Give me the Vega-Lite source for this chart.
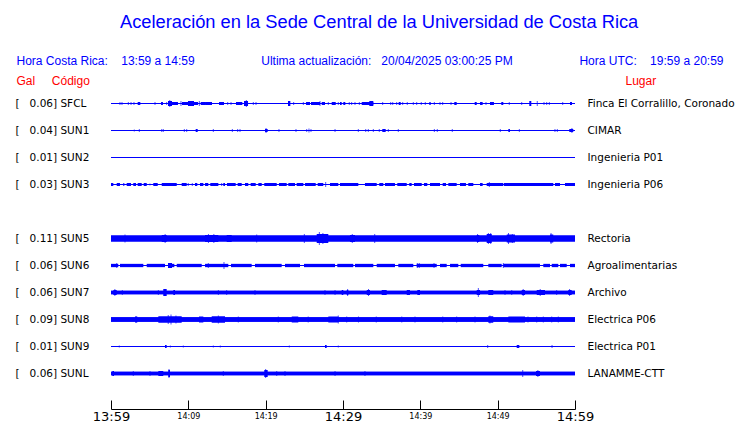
{
"$schema":"https://vega.github.io/schema/vega-lite/v6.json",
"autosize":{"type":"none"},
"width":464,"height":297,
"padding":{"left":111,"top":90,"right":165,"bottom":36},
"background":"white",
"config":{"view":{"stroke":null}},
"title":{"text":"Aceleración en la Sede Central de la Universidad de Costa Rica","font":"Liberation Sans","fontSize":18.3,"fontWeight":"normal","color":"#0000ff","anchor":"start","frame":"group","dx":9,"offset":22},
"datasets":{
"st":[
{"s":"SFCL","left":"[\u00a0\u00a0\u00a00.06] SFCL","place":"Finca El Corralillo, Coronado","base":0.01},
{"s":"SUN1","left":"[\u00a0\u00a0\u00a00.04] SUN1","place":"CIMAR","base":0.01},
{"s":"SUN2","left":"[\u00a0\u00a0\u00a00.01] SUN2","place":"Ingenieria P01","base":0.01},
{"s":"SUN3","left":"[\u00a0\u00a0\u00a00.03] SUN3","place":"Ingenieria P06","base":0.01},
{"s":"SUN5","left":"[\u00a0\u00a0\u00a00.11] SUN5","place":"Rectoria","base":0.06},
{"s":"SUN6","left":"[\u00a0\u00a0\u00a00.06] SUN6","place":"Agroalimentarias","base":0.01},
{"s":"SUN7","left":"[\u00a0\u00a0\u00a00.06] SUN7","place":"Archivo","base":0.035},
{"s":"SUN8","left":"[\u00a0\u00a0\u00a00.09] SUN8","place":"Electrica P06","base":0.045},
{"s":"SUN9","left":"[\u00a0\u00a0\u00a00.01] SUN9","place":"Electrica P01","base":0.01},
{"s":"SUNL","left":"[\u00a0\u00a0\u00a00.06] SUNL","place":"LANAMME-CTT","base":0.033}
],
"seg":[
{"s":"SFCL","t0":3.45,"t1":3.79,"a":0.03},{"s":"SFCL","t0":6.47,"t1":6.72,"a":0.03},{"s":"SFCL","t0":7.37,"t1":7.89,"a":0.05},{"s":"SFCL","t0":7.89,"t1":8.66,"a":0.03},{"s":"SFCL","t0":9.18,"t1":9.96,"a":0.03},{"s":"SFCL","t0":9.96,"t1":10.73,"a":0.05},{"s":"SFCL","t0":10.73,"t1":11.25,"a":0.03},{"s":"SFCL","t0":11.6,"t1":12.16,"a":0.03},{"s":"SFCL","t0":12.16,"t1":13.06,"a":0.03},{"s":"SFCL","t0":13.97,"t1":14.35,"a":0.03},{"s":"SFCL","t0":14.35,"t1":14.61,"a":0.03},{"s":"SFCL","t0":16.16,"t1":16.98,"a":0.03},{"s":"SFCL","t0":17.2,"t1":17.72,"a":0.05},{"s":"SFCL","t0":22.89,"t1":23.19,"a":0.05},{"s":"SFCL","t0":25.22,"t1":25.73,"a":0.03},{"s":"SFCL","t0":25.86,"t1":27.03,"a":0.03},{"s":"SFCL","t0":27.25,"t1":27.67,"a":0.03},{"s":"SFCL","t0":28.54,"t1":29.06,"a":0.03},{"s":"SFCL","t0":29.61,"t1":29.83,"a":0.03},{"s":"SFCL","t0":30.04,"t1":30.3,"a":0.03},{"s":"SFCL","t0":32.42,"t1":33.92,"a":0.03},{"s":"SFCL","t0":33.4,"t1":33.92,"a":0.05},{"s":"SFCL","t0":37.2,"t1":37.46,"a":0.03},{"s":"SFCL","t0":41.16,"t1":41.34,"a":0.03},{"s":"SFCL","t0":44.39,"t1":44.7,"a":0.03},{"s":"SFCL","t0":47.03,"t1":47.29,"a":0.03},{"s":"SFCL","t0":47.72,"t1":48.06,"a":0.03},{"s":"SFCL","t0":49.01,"t1":49.52,"a":0.03},{"s":"SFCL","t0":50.47,"t1":50.73,"a":0.03},{"s":"SFCL","t0":54.09,"t1":54.35,"a":0.05},{"s":"SFCL","t0":59.35,"t1":59.61,"a":0.03},
{"s":"SUN1","t0":10.95,"t1":11.21,"a":0.03},{"s":"SUN1","t0":19.91,"t1":20.26,"a":0.03},{"s":"SUN1","t0":35.08,"t1":35.52,"a":0.03},{"s":"SUN1","t0":51.38,"t1":51.59,"a":0.03},{"s":"SUN1","t0":59.26,"t1":59.78,"a":0.03},
{"s":"SUN3","t0":0,"t1":0.3,"a":0.03},{"s":"SUN3","t0":0.74,"t1":1.16,"a":0.03},{"s":"SUN3","t0":1.59,"t1":1.72,"a":0.03},{"s":"SUN3","t0":2.03,"t1":2.59,"a":0.03},{"s":"SUN3","t0":2.88,"t1":3.23,"a":0.03},{"s":"SUN3","t0":3.45,"t1":3.97,"a":0.03},{"s":"SUN3","t0":4.23,"t1":4.62,"a":0.03},{"s":"SUN3","t0":5.47,"t1":6.04,"a":0.03},{"s":"SUN3","t0":6.56,"t1":8.5,"a":0.03},{"s":"SUN3","t0":9.14,"t1":9.79,"a":0.03},{"s":"SUN3","t0":10.86,"t1":11.16,"a":0.03},{"s":"SUN3","t0":11.51,"t1":11.94,"a":0.03},{"s":"SUN3","t0":12.16,"t1":12.58,"a":0.03},{"s":"SUN3","t0":12.84,"t1":13.88,"a":0.03},{"s":"SUN3","t0":14.52,"t1":14.74,"a":0.03},{"s":"SUN3","t0":15.0,"t1":16.12,"a":0.03},{"s":"SUN3","t0":16.38,"t1":16.9,"a":0.03},{"s":"SUN3","t0":17.33,"t1":17.75,"a":0.03},{"s":"SUN3","t0":18.06,"t1":18.71,"a":0.03},{"s":"SUN3","t0":19.05,"t1":19.49,"a":0.03},{"s":"SUN3","t0":19.82,"t1":21.43,"a":0.03},{"s":"SUN3","t0":21.72,"t1":22.72,"a":0.03},{"s":"SUN3","t0":22.93,"t1":23.79,"a":0.03},{"s":"SUN3","t0":24.01,"t1":24.87,"a":0.03},{"s":"SUN3","t0":25.09,"t1":26.47,"a":0.03},{"s":"SUN3","t0":26.73,"t1":27.45,"a":0.03},{"s":"SUN3","t0":28.32,"t1":29.39,"a":0.03},{"s":"SUN3","t0":29.61,"t1":31.98,"a":0.03},{"s":"SUN3","t0":32.84,"t1":34.36,"a":0.03},{"s":"SUN3","t0":34.69,"t1":35.21,"a":0.03},{"s":"SUN3","t0":35.43,"t1":36.72,"a":0.03},{"s":"SUN3","t0":37.02,"t1":38.24,"a":0.03},{"s":"SUN3","t0":38.57,"t1":38.88,"a":0.03},{"s":"SUN3","t0":39.18,"t1":40.18,"a":0.03},{"s":"SUN3","t0":40.47,"t1":40.9,"a":0.03},{"s":"SUN3","t0":41.25,"t1":42.54,"a":0.03},{"s":"SUN3","t0":42.89,"t1":43.32,"a":0.03},{"s":"SUN3","t0":43.62,"t1":44.7,"a":0.03},{"s":"SUN3","t0":45.13,"t1":45.9,"a":0.03},{"s":"SUN3","t0":46.2,"t1":46.85,"a":0.03},{"s":"SUN3","t0":47.72,"t1":48.06,"a":0.03},{"s":"SUN3","t0":48.58,"t1":50.73,"a":0.03},{"s":"SUN3","t0":50.82,"t1":57.19,"a":0.03},{"s":"SUN3","t0":57.41,"t1":58.06,"a":0.03},{"s":"SUN3","t0":58.71,"t1":60,"a":0.03},
{"s":"SUN5","t0":6.56,"t1":7.2,"a":0.07},{"s":"SUN5","t0":12.16,"t1":13.88,"a":0.07},{"s":"SUN5","t0":14.96,"t1":15.61,"a":0.07},{"s":"SUN5","t0":26.6,"t1":28.1,"a":0.09},{"s":"SUN5","t0":30.9,"t1":31.55,"a":0.07},{"s":"SUN5","t0":47.29,"t1":47.62,"a":0.07},{"s":"SUN5","t0":48.58,"t1":49.23,"a":0.09},{"s":"SUN5","t0":51.17,"t1":52.24,"a":0.08},{"s":"SUN5","t0":56.77,"t1":57.19,"a":0.08},
{"s":"SUN6","t0":0,"t1":0.94,"a":0.033},{"s":"SUN6","t0":1.16,"t1":4.18,"a":0.033},{"s":"SUN6","t0":4.62,"t1":6.98,"a":0.033},{"s":"SUN6","t0":7.41,"t1":8.19,"a":0.033},{"s":"SUN6","t0":7.37,"t1":7.89,"a":0.05},{"s":"SUN6","t0":8.5,"t1":11.73,"a":0.033},{"s":"SUN6","t0":12.16,"t1":15.17,"a":0.033},{"s":"SUN6","t0":15.52,"t1":18.19,"a":0.033},{"s":"SUN6","t0":18.62,"t1":22.07,"a":0.033},{"s":"SUN6","t0":22.5,"t1":24.44,"a":0.033},{"s":"SUN6","t0":24.96,"t1":28.97,"a":0.033},{"s":"SUN6","t0":29.26,"t1":31.33,"a":0.033},{"s":"SUN6","t0":31.55,"t1":33.92,"a":0.033},{"s":"SUN6","t0":34.36,"t1":36.72,"a":0.033},{"s":"SUN6","t0":37.15,"t1":39.09,"a":0.033},{"s":"SUN6","t0":39.53,"t1":42.12,"a":0.033},{"s":"SUN6","t0":42.54,"t1":43.41,"a":0.033},{"s":"SUN6","t0":43.84,"t1":44.91,"a":0.033},{"s":"SUN6","t0":45.22,"t1":48.14,"a":0.033},{"s":"SUN6","t0":48.79,"t1":50.52,"a":0.033},{"s":"SUN6","t0":50.73,"t1":55.47,"a":0.033},{"s":"SUN6","t0":55.9,"t1":56.77,"a":0.033},{"s":"SUN6","t0":56.99,"t1":57.84,"a":0.033},{"s":"SUN6","t0":58.06,"t1":58.93,"a":0.033},{"s":"SUN6","t0":59.35,"t1":60,"a":0.033},
{"s":"SUN7","t0":0.3,"t1":0.74,"a":0.05},{"s":"SUN7","t0":6.76,"t1":7.2,"a":0.07},{"s":"SUN7","t0":8.06,"t1":8.28,"a":0.05},{"s":"SUN7","t0":29.83,"t1":30.04,"a":0.05},{"s":"SUN7","t0":30.48,"t1":30.69,"a":0.05},{"s":"SUN7","t0":33.07,"t1":33.49,"a":0.05},{"s":"SUN7","t0":35.0,"t1":35.65,"a":0.05},{"s":"SUN7","t0":38.24,"t1":38.66,"a":0.05},{"s":"SUN7","t0":39.61,"t1":39.96,"a":0.05},{"s":"SUN7","t0":47.29,"t1":47.72,"a":0.05},{"s":"SUN7","t0":48.79,"t1":49.43,"a":0.05},{"s":"SUN7","t0":53.11,"t1":53.54,"a":0.05},{"s":"SUN7","t0":55.05,"t1":56.12,"a":0.05},{"s":"SUN7","t0":59.13,"t1":59.57,"a":0.05},
{"s":"SUN8","t0":3.1,"t1":3.4,"a":0.06},{"s":"SUN8","t0":6.12,"t1":9.14,"a":0.065},{"s":"SUN8","t0":11.38,"t1":11.94,"a":0.06},{"s":"SUN8","t0":13.02,"t1":14.74,"a":0.065},{"s":"SUN8","t0":23.37,"t1":24.22,"a":0.06},{"s":"SUN8","t0":28.1,"t1":29.39,"a":0.06},{"s":"SUN8","t0":48.79,"t1":49.43,"a":0.065},{"s":"SUN8","t0":51.38,"t1":53.54,"a":0.06},
{"s":"SUN9","t0":6.98,"t1":7.2,"a":0.03},{"s":"SUN9","t0":27.67,"t1":27.89,"a":0.03},{"s":"SUN9","t0":52.46,"t1":52.8,"a":0.03},
{"s":"SUNL","t0":0.17,"t1":0.39,"a":0.05},{"s":"SUNL","t0":6.12,"t1":6.76,"a":0.05},{"s":"SUNL","t0":7.41,"t1":7.63,"a":0.07},{"s":"SUNL","t0":19.82,"t1":20.26,"a":0.07},{"s":"SUNL","t0":54.96,"t1":55.47,"a":0.05}
],
"spk":[
{"s":"SFCL","t":1.16,"a":0.03},{"s":"SFCL","t":1.42,"a":0.03},{"s":"SFCL","t":2.24,"a":0.03},{"s":"SFCL","t":2.59,"a":0.03},{"s":"SFCL","t":2.97,"a":0.03},{"s":"SFCL","t":5.69,"a":0.03},{"s":"SFCL","t":7.2,"a":0.03},{"s":"SFCL","t":7.6,"a":0.07},{"s":"SFCL","t":9.05,"a":0.05},{"s":"SFCL","t":10.3,"a":0.05},{"s":"SFCL","t":11.42,"a":0.05},{"s":"SFCL","t":15.09,"a":0.03},{"s":"SFCL","t":15.52,"a":0.03},{"s":"SFCL","t":17.5,"a":0.07},{"s":"SFCL","t":18.4,"a":0.03},{"s":"SFCL","t":18.75,"a":0.03},{"s":"SFCL","t":23.62,"a":0.03},{"s":"SFCL","t":24.87,"a":0.03},{"s":"SFCL","t":27.03,"a":0.05},{"s":"SFCL","t":28.1,"a":0.03},{"s":"SFCL","t":29.39,"a":0.03},{"s":"SFCL","t":30.81,"a":0.03},{"s":"SFCL","t":31.12,"a":0.03},{"s":"SFCL","t":31.55,"a":0.03},{"s":"SFCL","t":32.11,"a":0.03},{"s":"SFCL","t":35.13,"a":0.03},{"s":"SFCL","t":36.17,"a":0.03},{"s":"SFCL","t":36.43,"a":0.03},{"s":"SFCL","t":36.94,"a":0.03},{"s":"SFCL","t":37.72,"a":0.03},{"s":"SFCL","t":38.31,"a":0.03},{"s":"SFCL","t":39.09,"a":0.03},{"s":"SFCL","t":39.53,"a":0.03},{"s":"SFCL","t":40.12,"a":0.03},{"s":"SFCL","t":40.64,"a":0.03},{"s":"SFCL","t":41.81,"a":0.03},{"s":"SFCL","t":42.54,"a":0.03},{"s":"SFCL","t":42.89,"a":0.03},{"s":"SFCL","t":43.97,"a":0.03},{"s":"SFCL","t":48.49,"a":0.03},{"s":"SFCL","t":51.5,"a":0.03},{"s":"SFCL","t":53.11,"a":0.03},{"s":"SFCL","t":55.12,"a":0.05},{"s":"SFCL","t":55.99,"a":0.03},{"s":"SFCL","t":56.34,"a":0.03},{"s":"SFCL","t":56.68,"a":0.03},{"s":"SFCL","t":58.41,"a":0.03},
{"s":"SUN1","t":3.01,"a":0.02},{"s":"SUN1","t":3.66,"a":0.03},{"s":"SUN1","t":6.56,"a":0.03},{"s":"SUN1","t":6.76,"a":0.03},{"s":"SUN1","t":9.48,"a":0.03},{"s":"SUN1","t":9.79,"a":0.03},{"s":"SUN1","t":13.23,"a":0.03},{"s":"SUN1","t":15.69,"a":0.03},{"s":"SUN1","t":16.38,"a":0.03},{"s":"SUN1","t":16.68,"a":0.03},{"s":"SUN1","t":20.05,"a":0.05},{"s":"SUN1","t":21.72,"a":0.03},{"s":"SUN1","t":23.92,"a":0.03},{"s":"SUN1","t":25.31,"a":0.03},{"s":"SUN1","t":25.6,"a":0.04},{"s":"SUN1","t":25.86,"a":0.03},{"s":"SUN1","t":28.97,"a":0.03},{"s":"SUN1","t":31.98,"a":0.03},{"s":"SUN1","t":32.94,"a":0.03},{"s":"SUN1","t":33.27,"a":0.03},{"s":"SUN1","t":33.92,"a":0.03},{"s":"SUN1","t":34.69,"a":0.03},{"s":"SUN1","t":35.86,"a":0.03},{"s":"SUN1","t":37.15,"a":0.03},{"s":"SUN1","t":41.81,"a":0.03},{"s":"SUN1","t":42.19,"a":0.03},{"s":"SUN1","t":44.13,"a":0.03},{"s":"SUN1","t":50.34,"a":0.03},{"s":"SUN1","t":52.8,"a":0.03},{"s":"SUN1","t":57.41,"a":0.03},{"s":"SUN1","t":57.71,"a":0.03},{"s":"SUN1","t":59.6,"a":0.05},
{"s":"SUN3","t":5.04,"a":0.02},{"s":"SUN3","t":9.99,"a":0.03},{"s":"SUN3","t":10.51,"a":0.03},{"s":"SUN3","t":14.31,"a":0.03},{"s":"SUN3","t":27.76,"a":0.05},{"s":"SUN3","t":48.92,"a":0.05},
{"s":"SUN5","t":1.81,"a":0.08},{"s":"SUN5","t":7.0,"a":0.09},{"s":"SUN5","t":12.6,"a":0.09},{"s":"SUN5","t":13.3,"a":0.09},{"s":"SUN5","t":18.84,"a":0.08},{"s":"SUN5","t":25.0,"a":0.09},{"s":"SUN5","t":26.94,"a":0.13},{"s":"SUN5","t":27.4,"a":0.11},{"s":"SUN5","t":31.2,"a":0.09},{"s":"SUN5","t":34.1,"a":0.09},{"s":"SUN5","t":47.4,"a":0.09},{"s":"SUN5","t":48.8,"a":0.11},{"s":"SUN5","t":49.1,"a":0.11},{"s":"SUN5","t":51.4,"a":0.11},{"s":"SUN5","t":51.9,"a":0.09},{"s":"SUN5","t":56.9,"a":0.11},
{"s":"SUN6","t":0.74,"a":0.05},{"s":"SUN6","t":12.58,"a":0.05},{"s":"SUN6","t":14.61,"a":0.07},{"s":"SUN6","t":39.61,"a":0.05},{"s":"SUN6","t":39.86,"a":0.05},{"s":"SUN6","t":41.77,"a":0.05},{"s":"SUN6","t":50.73,"a":0.05},
{"s":"SUN7","t":0.5,"a":0.07},{"s":"SUN7","t":1.46,"a":0.05},{"s":"SUN7","t":6.12,"a":0.05},{"s":"SUN7","t":13.88,"a":0.05},{"s":"SUN7","t":14.96,"a":0.05},{"s":"SUN7","t":18.62,"a":0.05},{"s":"SUN7","t":27.67,"a":0.05},{"s":"SUN7","t":28.97,"a":0.05},{"s":"SUN7","t":30.6,"a":0.07},{"s":"SUN7","t":33.3,"a":0.07},{"s":"SUN7","t":47.5,"a":0.09},{"s":"SUN7","t":50.95,"a":0.05},{"s":"SUN7","t":51.82,"a":0.05},{"s":"SUN7","t":53.3,"a":0.07},{"s":"SUN7","t":55.5,"a":0.07},{"s":"SUN7","t":57.63,"a":0.05},{"s":"SUN7","t":59.3,"a":0.07},
{"s":"SUN8","t":3.25,"a":0.06},{"s":"SUN8","t":7.4,"a":0.09},{"s":"SUN8","t":7.76,"a":0.1},{"s":"SUN8","t":8.4,"a":0.08},{"s":"SUN8","t":13.88,"a":0.08},{"s":"SUN8","t":16.46,"a":0.06},{"s":"SUN8","t":21.63,"a":0.06},{"s":"SUN8","t":25.5,"a":0.06},{"s":"SUN8","t":29.39,"a":0.08},{"s":"SUN8","t":30.48,"a":0.06},{"s":"SUN8","t":32.0,"a":0.06},{"s":"SUN8","t":34.3,"a":0.06},{"s":"SUN8","t":37.6,"a":0.06},{"s":"SUN8","t":39.31,"a":0.06},{"s":"SUN8","t":42.9,"a":0.06},{"s":"SUN8","t":44.7,"a":0.06},{"s":"SUN8","t":47.07,"a":0.06},{"s":"SUN8","t":49.0,"a":0.08},{"s":"SUN8","t":53.92,"a":0.06},{"s":"SUN8","t":55.05,"a":0.06},{"s":"SUN8","t":55.9,"a":0.06},{"s":"SUN8","t":56.99,"a":0.06},{"s":"SUN8","t":57.84,"a":0.06},
{"s":"SUN9","t":1.07,"a":0.02},{"s":"SUN9","t":7.67,"a":0.02},{"s":"SUN9","t":9.35,"a":0.02},{"s":"SUN9","t":13.23,"a":0.02},{"s":"SUN9","t":14.13,"a":0.02},{"s":"SUN9","t":23.06,"a":0.02},{"s":"SUN9","t":29.39,"a":0.02},{"s":"SUN9","t":48.71,"a":0.03},{"s":"SUN9","t":57.03,"a":0.03},
{"s":"SUNL","t":2.88,"a":0.05},{"s":"SUNL","t":5.04,"a":0.05},{"s":"SUNL","t":7.5,"a":0.09},{"s":"SUNL","t":14.52,"a":0.05},{"s":"SUNL","t":20.0,"a":0.09},{"s":"SUNL","t":21.43,"a":0.05},{"s":"SUNL","t":22.5,"a":0.05},{"s":"SUNL","t":28.97,"a":0.05},{"s":"SUNL","t":32.84,"a":0.05},{"s":"SUNL","t":53.24,"a":0.07},{"s":"SUNL","t":55.2,"a":0.07}
]
},
"layer":[
{"data":{"name":"st"},"mark":{"type":"bar","color":"#0000ff"},
 "encoding":{
  "y":{"field":"left","type":"nominal","scale":{"type":"band","paddingInner":0,"paddingOuter":0,"domain":["[\u00a0\u00a0\u00a00.06] SFCL","[\u00a0\u00a0\u00a00.04] SUN1","[\u00a0\u00a0\u00a00.01] SUN2","[\u00a0\u00a0\u00a00.03] SUN3","\u00a0","[\u00a0\u00a0\u00a00.11] SUN5","[\u00a0\u00a0\u00a00.06] SUN6","[\u00a0\u00a0\u00a00.06] SUN7","[\u00a0\u00a0\u00a00.09] SUN8","[\u00a0\u00a0\u00a00.01] SUN9","[\u00a0\u00a0\u00a00.06] SUNL"]},
   "axis":{"orient":"left","title":"Gal\u00a0\u00a0\u00a0\u00a0\u00a0Código","titleFont":"Liberation Sans","titleFontSize":12,"titleFontWeight":"normal","titleColor":"#ff0000","titleAngle":0,"titleAlign":"left","titleBaseline":"alphabetic","titleX":-95,"titleY":-6,"ticks":false,"tickSize":0,"domain":false,"labelPadding":96,"labelAlign":"left","labelBaseline":"middle","labelFont":"DejaVu Sans","labelFontSize":10.5,"labelColor":"#000000","labelLimit":200}},
  "x":{"datum":0,"type":"quantitative","scale":{"domain":[0,60],"nice":false,"zero":false}},
  "x2":{"datum":60},
  "size":{"field":"base","type":"quantitative","scale":{"domain":[0,0.16],"range":[0,16]},"legend":null}
 }},
{"data":{"name":"st"},"mark":{"type":"bar","color":"#0000ff"},
 "encoding":{
  "y":{"field":"place","type":"nominal","scale":{"type":"band","paddingInner":0,"paddingOuter":0,"domain":["Finca El Corralillo, Coronado","CIMAR","Ingenieria P01","Ingenieria P06","\u00a0","Rectoria","Agroalimentarias","Archivo","Electrica P06","Electrica P01","LANAMME-CTT"]},
   "axis":{"orient":"right","title":"Lugar","titleFont":"Liberation Sans","titleFontSize":12,"titleFontWeight":"normal","titleColor":"#ff0000","titleAngle":0,"titleAlign":"left","titleBaseline":"alphabetic","titleX":50,"titleY":-6,"ticks":false,"tickSize":0,"domain":false,"labelPadding":12,"labelAlign":"left","labelBaseline":"middle","labelFont":"DejaVu Sans","labelFontSize":10.5,"labelColor":"#000000","labelLimit":200}},
  "x":{"datum":0,"type":"quantitative"},
  "x2":{"datum":60},
  "size":{"field":"base","type":"quantitative","legend":null}
 }},
{"data":{"name":"seg"},"mark":{"type":"bar","color":"#0000ff"},
 "encoding":{
  "y":{"field":"s","type":"nominal","scale":{"type":"band","paddingInner":0,"paddingOuter":0,"domain":["SFCL","SUN1","SUN2","SUN3","SUN4","SUN5","SUN6","SUN7","SUN8","SUN9","SUNL"]},"axis":null},
  "x":{"field":"t0","type":"quantitative",
   "axis":{"orient":"bottom","offset":22,"values":[0,5,10,15,20,25,30,35,40,45,50,55,60],"grid":false,"tickSize":-9,"tickColor":"#000000","domainColor":"#000000","labelFlush":false,"labelPadding":16,"labelBaseline":"middle","labelFont":"DejaVu Sans","labelColor":"#000000",
    "labelFontSize":{"condition":{"test":"datum.value % 30 == 0","value":13},"value":8},
    "labelExpr":"datum.value == 0 ? '13:59' : datum.value == 10 ? '14:09' : datum.value == 20 ? '14:19' : datum.value == 30 ? '14:29' : datum.value == 40 ? '14:39' : datum.value == 50 ? '14:49' : datum.value == 60 ? '14:59' : ''",
    "title":"Hora Costa Rica:\u00a0\u00a0\u00a0\u00a013:59 a 14:59\u00a0\u00a0\u00a0\u00a0\u00a0\u00a0\u00a0\u00a0\u00a0\u00a0\u00a0\u00a0\u00a0\u00a0\u00a0\u00a0\u00a0\u00a0\u00a0\u00a0Ultima actualización:\u00a0\u00a0\u00a020/04/2025 03:00:25 PM\u00a0\u00a0\u00a0\u00a0\u00a0\u00a0\u00a0\u00a0\u00a0\u00a0\u00a0\u00a0\u00a0\u00a0\u00a0\u00a0\u00a0\u00a0\u00a0\u00a0Hora UTC:\u00a0\u00a0\u00a0\u00a019:59 a 20:59",
    "titleFont":"Liberation Sans","titleFontSize":12,"titleFontWeight":"normal","titleColor":"#0000ff","titleAlign":"left","titleAnchor":"start","titleBaseline":"alphabetic","titleX":-95,"titleY":-345}},
  "x2":{"field":"t1"},
  "size":{"field":"a","type":"quantitative","legend":null}
 }},
{"data":{"name":"spk"},"mark":{"type":"tick","color":"#0000ff","thickness":1},
 "encoding":{
  "y":{"field":"s","type":"nominal","scale":{"type":"band","paddingInner":0,"paddingOuter":0,"domain":["SFCL","SUN1","SUN2","SUN3","SUN4","SUN5","SUN6","SUN7","SUN8","SUN9","SUNL"]},"axis":null},
  "x":{"field":"t","type":"quantitative"},
  "size":{"field":"a","type":"quantitative","legend":null}
 }}
],
"resolve":{"scale":{"y":"independent"},"axis":{"y":"independent"}}
}
